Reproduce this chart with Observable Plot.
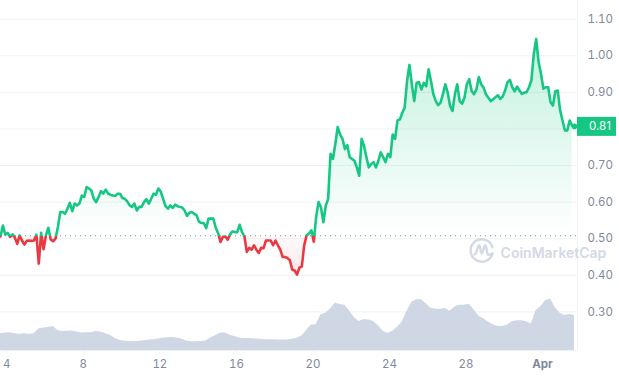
<!DOCTYPE html>
<html>
<head>
<meta charset="utf-8">
<style>
html,body{margin:0;padding:0;background:#fff}
svg{display:block}
</style>
<script src="https://cdn.jsdelivr.net/npm/d3@7"></script>
<script src="https://cdn.jsdelivr.net/npm/@observablehq/plot@0.6"></script>
</head>
<body>
<div id="chart"></div>
<script>
const startDay = 3.671;
const priceStepDays = 0.125;
const volumeStepDays = 0.25;
const openingPrice = 0.508;
const lastPriceLabel = "0.81";
const gridTicks = [0.3,0.4,0.5,0.6,0.7,0.8,0.9,1.0,1.1];
const priceTicks = [0.3,0.4,0.5,0.6,0.7,0.9,1.0,1.1];
const dayTicks = [4,8,12,16,20,24,28];
const monthTicks = [32];
const monthLabels = ["Apr"];

const prices = [
.506,.536,.511,.516,.505,.512,.503,.486,.509,.495,.484,.494,.495,.494,.495,.511,.432,.516,.471,.509,
.530,.498,.493,.500,.532,.573,.573,.568,.582,.598,.575,.596,.591,.596,.618,.614,.641,.637,.632,.609,
.600,.614,.630,.623,.634,.623,.620,.618,.617,.623,.623,.611,.609,.602,.591,.587,.596,.577,.587,.587,
.600,.608,.596,.609,.623,.620,.637,.629,.609,.589,.582,.591,.584,.593,.589,.587,.585,.577,.562,.571,
.573,.568,.564,.546,.543,.543,.529,.555,.555,.555,.530,.515,.491,.505,.506,.497,.512,.520,.518,.518,
.538,.518,.506,.464,.475,.470,.482,.470,.461,.475,.474,.495,.495,.495,.482,.495,.482,.470,.450,.450,
.447,.441,.415,.413,.402,.421,.424,.482,.509,.514,.523,.492,.560,.600,.586,.545,.590,.609,.732,.718,
.759,.805,.785,.773,.745,.756,.723,.718,.713,.695,.672,.773,.754,.723,.695,.704,.709,.695,.713,.736,
.723,.709,.732,.723,.785,.773,.823,.826,.844,.858,.931,.975,.922,.876,.926,.928,.908,.926,.917,.963,
.931,.895,.876,.865,.872,.895,.922,.899,.863,.849,.895,.922,.876,.869,.885,.922,.936,.904,.895,.908,
.942,.922,.913,.895,.885,.876,.881,.887,.892,.882,.889,.905,.928,.934,.914,.903,.916,.905,.896,.899,
.901,.914,.933,1.005,1.046,.983,.951,.910,.914,.914,.873,.864,.903,.905,.851,.823,.796,.796,.823,.809,
.807];

// Volume has no axis of its own in the picture: values are read against the price axis.
const volumeOnPriceAxis = [
.240,.242,.243,.240,.239,.240,.239,.240,.253,.256,.257,.260,.249,.246,.247,.248,.245,.242,.243,.243,
.246,.245,.240,.236,.227,.222,.220,.219,.218,.220,.221,.223,.224,.226,.228,.229,.230,.228,.225,.220,
.218,.218,.219,.221,.229,.235,.242,.242,.236,.233,.228,.227,.227,.226,.226,.224,.224,.224,.223,.223,
.223,.225,.228,.234,.249,.264,.265,.292,.296,.308,.324,.320,.318,.302,.284,.274,.279,.278,.274,.262,
.247,.241,.247,.258,.272,.302,.326,.333,.333,.322,.310,.307,.307,.309,.302,.313,.318,.318,.321,.306,
.288,.281,.272,.265,.260,.260,.264,.273,.276,.276,.273,.267,.304,.315,.331,.335,.311,.296,.290,.293,
.290];

const green = "#16c784", red = "#ea3943", ink = "#808a9d", hair = "#eff2f5", mark = "#d3d9e5";
const fontFamily = "Inter, sans-serif";

const priceRows = prices.map((p, i) => ({day: startDay + i * priceStepDays, p}));
const volumeRows = volumeOnPriceAxis.map((v, i) => ({day: startDay + i * volumeStepDays, v}));
const fillRows = priceRows.slice(0, -1);
const last = priceRows[priceRows.length - 1];
const yFloor = 0.1944, yTop = 1.1511, xEnd = 33.83;

const defs = (index, {y}, values, {height}) => {
  const b = y(openingPrice) / height;
  const s = d3.create("svg:defs");
  s.html(`
    <linearGradient id="lineColor" gradientUnits="userSpaceOnUse" x1="0" x2="0" y1="0" y2="${height}">
      <stop offset="${b}" stop-color="${green}"/><stop offset="${b}" stop-color="${red}"/>
    </linearGradient>
    <linearGradient id="upFill" gradientUnits="userSpaceOnUse" x1="0" x2="0" y1="${y(1.05)}" y2="${y(openingPrice)}">
      <stop offset="0" stop-color="${green}" stop-opacity=".26"/><stop offset="1" stop-color="${green}" stop-opacity="0"/>
    </linearGradient>
    <linearGradient id="downFill" gradientUnits="userSpaceOnUse" x1="0" x2="0" y1="${y(openingPrice)}" y2="${y(0.40)}">
      <stop offset="0" stop-color="${red}" stop-opacity=".02"/><stop offset="1" stop-color="${red}" stop-opacity=".12"/>
    </linearGradient>`);
  return s.node();
};

const logo = (index, {x, y}) => {
  const g = d3.create("svg:g")
    .attr("transform", `translate(${x(28.85)},${y(0.4665)})`)
    .attr("fill", "none").attr("stroke", mark).attr("stroke-width", 2.4)
    .attr("stroke-linecap", "round").attr("stroke-linejoin", "round");
  g.append("path").attr("d", "M10.8 3.2A11.2 11.2 0 1 1 10.8 -3.2");
  g.append("path").attr("d", "M-7 4C-5 4 -4.5 -5 -2.5 -5C-1 -5 -1.5 3 0 3C1.5 3 2 -5 3.5 -5C5.5 -5 4.5 5 7 4.5C8 4.3 9 4 10.6 3");
  return g.node();
};

const tag = (index, {y}) => {
  const g = d3.create("svg:g");
  g.append("rect").attr("x", 577).attr("width", 39).attr("height", 19)
    .attr("y", y(last.p) - 9).attr("fill", green);
  return g.node();
};

const plot = Plot.plot({
  width: 619, height: 376,
  marginLeft: 0, marginRight: 42, marginTop: 0, marginBottom: 26,
  style: {fontFamily, background: "#fff"},
  x: {domain: [startDay, xEnd], label: null},
  y: {domain: [yFloor, yTop], label: null},
  marks: [
    defs,
    Plot.ruleY(gridTicks, {stroke: hair, strokeWidth: 1}),
    Plot.ruleY([yFloor], {stroke: hair}),
    Plot.ruleX([xEnd], {stroke: hair, y1: yFloor, y2: yTop}),
    Plot.text(["CoinMarketCap"], {x: 29.81, y: 0.4605, textAnchor: "start", fill: mark, fontSize: 14, fontWeight: 600}),
    logo,
    Plot.areaY(volumeRows, {x: "day", y1: yFloor, y2: "v", fill: "#cfd6e4"}),
    Plot.areaY(fillRows, {x: "day", y1: openingPrice, y2: d => Math.max(d.p, openingPrice), fill: "url(#upFill)"}),
    Plot.areaY(fillRows, {x: "day", y1: openingPrice, y2: d => Math.min(d.p, openingPrice), fill: "url(#downFill)"}),
    Plot.ruleY([openingPrice], {stroke: "#7f8796", strokeWidth: 1, strokeDasharray: "1,4"}),
    Plot.line(priceRows, {x: "day", y: "p", stroke: "url(#lineColor)", strokeWidth: 2.6, strokeLinejoin: "round"}),
    Plot.dot([last], {x: "day", y: "p", r: 2.8, fill: green}),
    tag,
    Plot.text([lastPriceLabel], {frameAnchor: "right", y: last.p, dx: 22.5, textAnchor: "middle", fill: "#fff", fontSize: 11.5}),
    Plot.axisY({anchor: "right", ticks: priceTicks, tickSize: 0, tickPadding: 10, tickFormat: d3.format(".2f"),
      label: null, fontSize: 11.5, fill: ink}),
    Plot.axisX({ticks: dayTicks, tickSize: 3, tickPadding: 6, tickFormat: d => String(d), stroke: hair,
      label: null, fontSize: 11.5, fill: ink}),
    Plot.axisX({ticks: monthTicks, tickSize: 3, tickPadding: 6, tickFormat: (d, i) => monthLabels[i], stroke: hair,
      label: null, fontSize: 11.5, fontWeight: 700, fill: ink})
  ]
});
document.getElementById("chart").append(plot);
</script>
</body>
</html>
